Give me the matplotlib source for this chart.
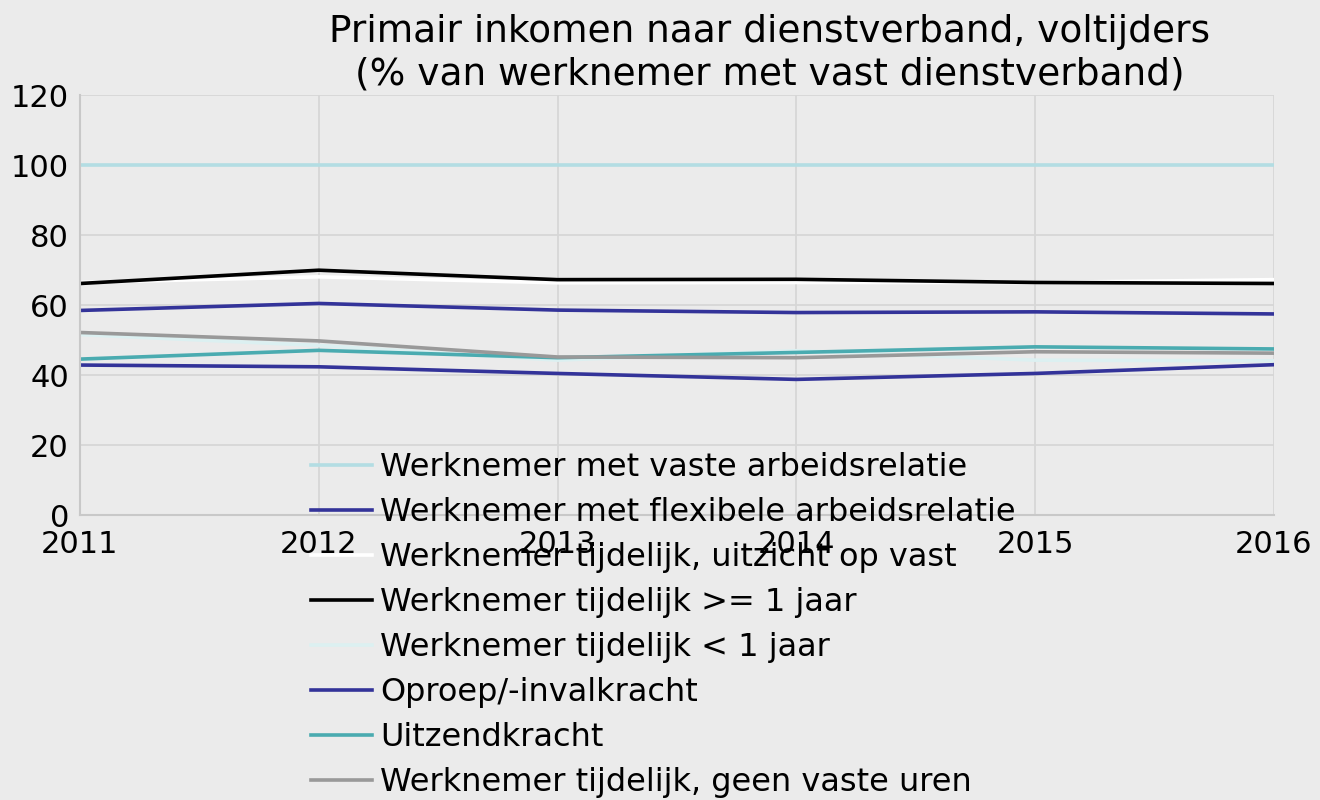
import matplotlib.pyplot as plt

years = [2011, 2012, 2013, 2014, 2015, 2016]

vast = [100, 100, 100, 100, 100, 100]
flexibel = [58.5, 60.5, 58.6, 57.9, 58.1, 57.5]
uitzicht_vast = [66.5, 68.1, 66.4, 66.5, 66.5, 67.3]
tijdelijk_1jaar_plus = [66.2, 70.0, 67.3, 67.4, 66.5, 66.2]
tijdelijk_1jaar_min = [51.6, 48.5, 44.3, 47.0, 44.3, 44.1]
oproep = [42.9, 42.4, 40.5, 38.8, 40.5, 43.0]
uitzend = [44.6, 47.1, 45.0, 46.5, 48.1, 47.5]
geen_vaste_uren = [52.2, 49.8, 45.2, 45.0, 46.7, 46.3]

labels = [
    "Werknemer met vaste arbeidsrelatie",
    "Werknemer met flexibele arbeidsrelatie",
    "Werknemer tijdelijk, uitzicht op vast",
    "Werknemer tijdelijk >= 1 jaar",
    "Werknemer tijdelijk < 1 jaar",
    "Oproep/-invalkracht",
    "Uitzendkracht",
    "Werknemer tijdelijk, geen vaste uren",
]
colors = ["#b3dde3", "#333399", "#ffffff", "#000000",
          "#dcf0f1", "#333399", "#4aabb0", "#999999"]
series = [vast, flexibel, uitzicht_vast, tijdelijk_1jaar_plus,
          tijdelijk_1jaar_min, oproep, uitzend, geen_vaste_uren]

bg = "#ebebeb"
fig = plt.figure(figsize=(13.2, 8), dpi=100, facecolor=bg)
ax = fig.add_axes([0.0606, 0.356, 0.9044, 0.525], facecolor=bg)

for vals, lab, col in zip(series, labels, colors):
    ax.plot(years, vals, color=col, linewidth=2.6, label=lab)

ax.set_xlim(2011, 2016)
ax.set_ylim(0, 120)
ax.set_yticks(range(0, 121, 20))
ax.set_xticks(years)
ax.tick_params(length=0, labelsize=22, pad=8)
ax.tick_params(axis="x", pad=11)
ax.grid(True, color="#d6d6d6", linewidth=1.3)
ax.set_axisbelow(True)
for side in ["top", "right"]:
    ax.spines[side].set_visible(False)
for side in ["left", "bottom"]:
    ax.spines[side].set_color("#c8c8c8")
    ax.spines[side].set_linewidth(1.5)

ax.set_title("Primair inkomen naar dienstverband, voltijders\n(% van werknemer met vast dienstverband)",
             fontsize=27, pad=8, x=0.578, linespacing=1.2)

ax.legend(loc="upper left", bbox_to_anchor=(0.183, 0.181), frameon=False,
          fontsize=23, handlelength=1.9, handletextpad=0.25,
          labelspacing=0.44, borderaxespad=0)

fig.savefig("out.png", dpi=100, facecolor=bg)
